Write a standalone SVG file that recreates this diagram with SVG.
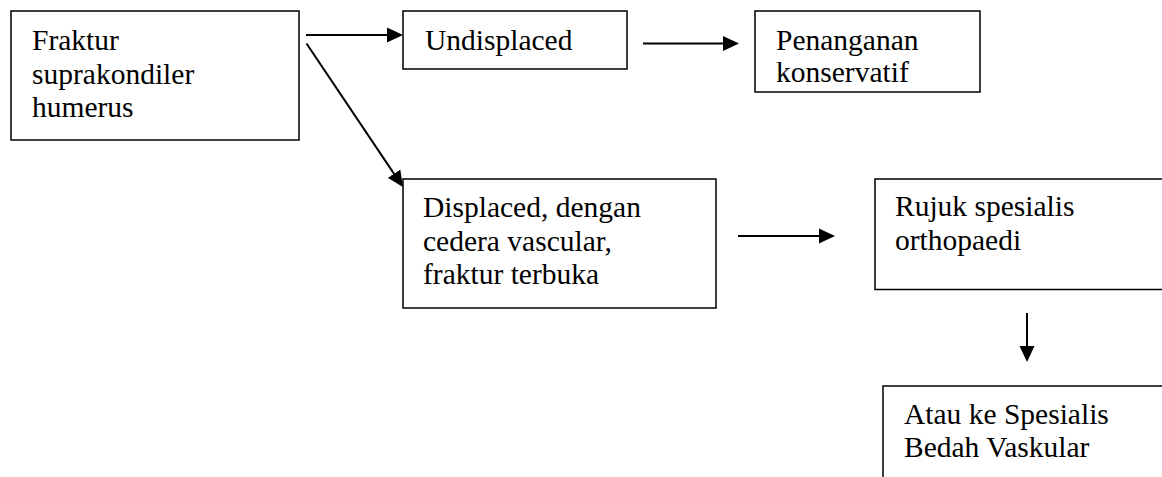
<svg xmlns="http://www.w3.org/2000/svg" width="1162" height="477" viewBox="0 0 1162 477">
<style>
.box{fill:#fff;stroke:#000;stroke-width:1.5}
.open{fill:none;stroke:#000;stroke-width:1.5}
.t{font-family:"Liberation Serif","Times New Roman",serif;font-size:29.5px;fill:#000}
.c{stroke:#000;stroke-width:2;fill:none;marker-end:url(#ah)}
</style>
<defs>
<marker id="ah" viewBox="0 -8 16 16" refX="1" refY="0" markerWidth="16" markerHeight="16" markerUnits="userSpaceOnUse" orient="auto">
<path d="M0,-7.5 L16,0 L0,7.5 z" fill="#000"/>
</marker>
</defs>
<rect width="1162" height="477" fill="#fff"/>
<g id="connectors">
<line class="c" x1="306" y1="35" x2="388" y2="35"/>
<line class="c" x1="306.5" y1="43.5" x2="394.6" y2="174.6"/>
<line class="c" x1="643" y1="43.5" x2="724" y2="43.5"/>
<line class="c" x1="738" y1="236" x2="820" y2="236"/>
<line class="c" x1="1027" y1="313" x2="1027" y2="347"/>
</g>
<g id="n1">
<rect class="box" x="11" y="11" width="288" height="129"/>
<text class="t" x="32" y="50">Fraktur</text>
<text class="t" x="32" y="83.5">suprakondiler</text>
<text class="t" x="32" y="117">humerus</text>
</g>
<g id="n2">
<rect class="box" x="403" y="11" width="224" height="58"/>
<text class="t" x="425" y="50">Undisplaced</text>
</g>
<g id="n3">
<rect class="box" x="755" y="11" width="225" height="81"/>
<text class="t" x="776" y="49.5">Penanganan</text>
<text class="t" x="776" y="82">konservatif</text>
</g>
<g id="n4">
<rect class="box" x="403" y="179" width="313" height="129"/>
<text class="t" x="423" y="217">Displaced, dengan</text>
<text class="t" x="423" y="250.5">cedera vascular,</text>
<text class="t" x="423" y="284">fraktur terbuka</text>
</g>
<g id="n5">
<path class="open" d="M1163,179 H875 V289.5 H1163"/>
<text class="t" x="895" y="216">Rujuk spesialis</text>
<text class="t" x="895" y="249.5">orthopaedi</text>
</g>
<g id="n6">
<path class="open" d="M1163,386 H883 V478"/>
<text class="t" x="904" y="424">Atau ke Spesialis</text>
<text class="t" x="904" y="457">Bedah Vaskular</text>
</g>
</svg>
